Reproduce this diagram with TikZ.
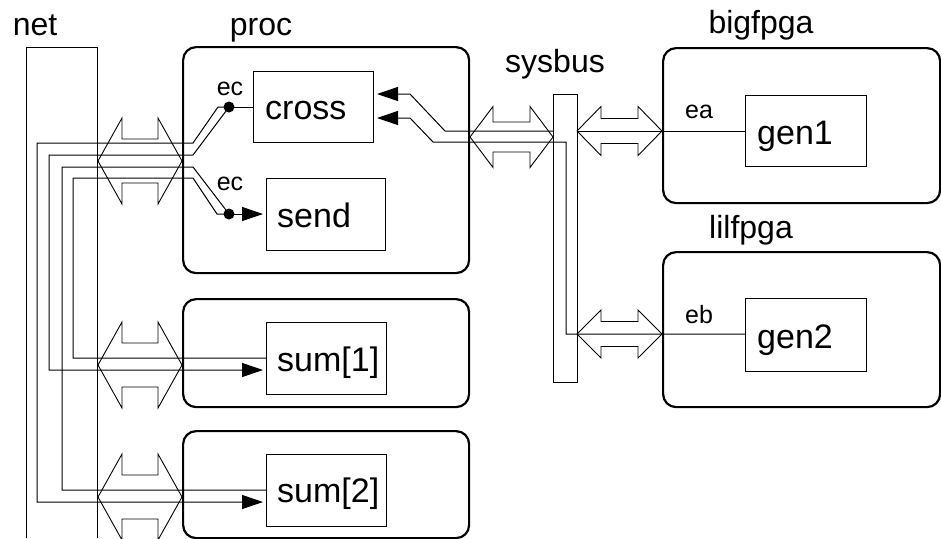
\documentclass[tikz,border=0pt]{standalone}
\usepackage{fontspec}
\setmainfont{Liberation Sans}
\usetikzlibrary{arrows.meta}

% hollow double-headed bus arrow: x1, x2, y-centre, half height, half shaft, head length
\newcommand\dblarrow[6]{%
  \draw[busarrow] (#1,#3) -- ({#1+#6},{#3-#4}) -- ({#1+#6},{#3-#5}) -- ({#2-#6},{#3-#5})
    -- ({#2-#6},{#3-#4}) -- (#2,#3) -- ({#2-#6},{#3+#4}) -- ({#2-#6},{#3+#5})
    -- ({#1+#6},{#3+#5}) -- ({#1+#6},{#3+#4}) -- cycle;}

\begin{document}
\begin{tikzpicture}[x=1pt,y=-1pt,
  wire/.style={line width=1pt},
  busarrow/.style={line width=0.9pt, line join=miter},
  block/.style={draw, line width=2.2pt, rounded corners=13pt, inner sep=0pt, anchor=north west},
  unit/.style={draw, line width=1pt, inner sep=0pt, anchor=north west},
  title/.style={font=\fontsize{32}{38}\selectfont, inner sep=0pt, anchor=base},
  blabel/.style={font=\fontsize{34}{40}\selectfont, inner sep=0pt, anchor=base west},
  port/.style={font=\fontsize{25}{30}\selectfont, inner sep=0pt, anchor=base},
  tip/.style={-{Triangle[length=21pt,width=14pt]}, shorten >=3pt},
  junction/.style={circle, fill, inner sep=0pt, minimum size=11pt}]

\useasboundingbox (0,0) rectangle (941,538);

% net column (runs off the bottom edge)
\draw[wire] (26,538) -- (26,47) -- (97,47) -- (97,538);

% outer rounded blocks
\node[block, minimum width=286pt, minimum height=226pt] (proc) at (182,46) {};
\node[block, minimum width=286pt, minimum height=108pt] (sumblk1) at (182,298) {};
\node[block, minimum width=286pt, minimum height=107pt] (sumblk2) at (182,430) {};
\node[block, minimum width=277pt, minimum height=155pt] (bigfpga) at (662,47) {};
\node[block, minimum width=277pt, minimum height=155pt] (lilfpga) at (662,251) {};

% inner units
\node[unit, minimum width=120pt, minimum height=71pt] (cross) at (253,71) {};
\node[unit, minimum width=119pt, minimum height=72pt] (send) at (266,178) {};
\node[unit, minimum width=120pt, minimum height=72pt] (sum1) at (266,322) {};
\node[unit, minimum width=120pt, minimum height=72pt] (sum2) at (266,454) {};
\node[unit, minimum width=121pt, minimum height=71pt] (gen1) at (745,95) {};
\node[unit, minimum width=121pt, minimum height=73pt] (gen2) at (745,298) {};

% sysbus bar
\node[unit, minimum width=24pt, minimum height=288pt] (bar) at (553,94) {};

% titles
\node[title] (t-net) at (35,35) {net};
\node[title] (t-proc) at (261,35) {proc};
\node[title] (t-sysbus) at (555,72) {sysbus};
\node[title] (t-big) at (761,33) {bigfpga};
\node[title] (t-lil) at (751,238) {lilfpga};

% unit names
\node[blabel] (l-cross) at (265,119) {cross};
\node[blabel] (l-send) at (277,227) {send};
\node[blabel] (l-sum1) at (277,371) {sum[1]};
\node[blabel] (l-sum2) at (277,502) {sum[2]};
\node[blabel] (l-gen1) at (757,144) {gen1};
\node[blabel] (l-gen2) at (757,348) {gen2};

% port names
\node[port] (p-ec1) at (230,95) {ec};
\node[port] (p-ec2) at (230,190) {ec};
\node[port] (p-ea) at (699,118) {ea};
\node[port] (p-eb) at (699,323) {eb};

% junction dots
\node[junction] (ecA) at (229,107) {};
\node[junction] (ecB) at (229,214) {};

% cross ec channel
\draw[wire] (cross.west |- ecA) -- (ecA.center);
\draw[wire, tip] (ecA.center) -- (218,107) -- (193,143) -- (37,143) -- (37,502) -- (sum2.west |- 0,502);
\draw[wire, tip] (ecA.center) -- (193,155) -- (49,155) -- (49,370) -- (sum1.west |- 0,370);

% send ec channel
\draw[wire] (ecB.center) -- (193,167) -- (62,167) -- (62,490) -- (sum2.west |- 0,490);
\draw[wire] (ecB.center) -- (217,214) -- (193,178) -- (73,178) -- (73,358) -- (sum1.west |- 0,358);
\draw[wire, tip] (ecB.center) -- (send.west |- ecB);

% sysbus links
\draw[wire, tip] (bar.west |- 0,131) -- (445,131) -- (410,94) -- (cross.east |- 0,94);
\draw[wire, tip] (gen2.west |- 0,334) -- (566,334) -- (566,142) -- (433,142) -- (410,118) -- (cross.east |- 0,118);
\draw[wire] (bar.east |- 0,131) -- (gen1.west |- 0,131);

% bus arrows
\dblarrow{98}{182}{161}{43}{22}{24}
\dblarrow{98}{182}{365}{43}{22}{24}
\dblarrow{98}{182}{497}{43}{22}{24}
\dblarrow{470}{553}{137}{30.5}{15}{23}
\dblarrow{577}{662}{131}{24.5}{12.5}{24}
\dblarrow{577}{662}{334}{24}{12.5}{24}
\end{tikzpicture}
\end{document}
